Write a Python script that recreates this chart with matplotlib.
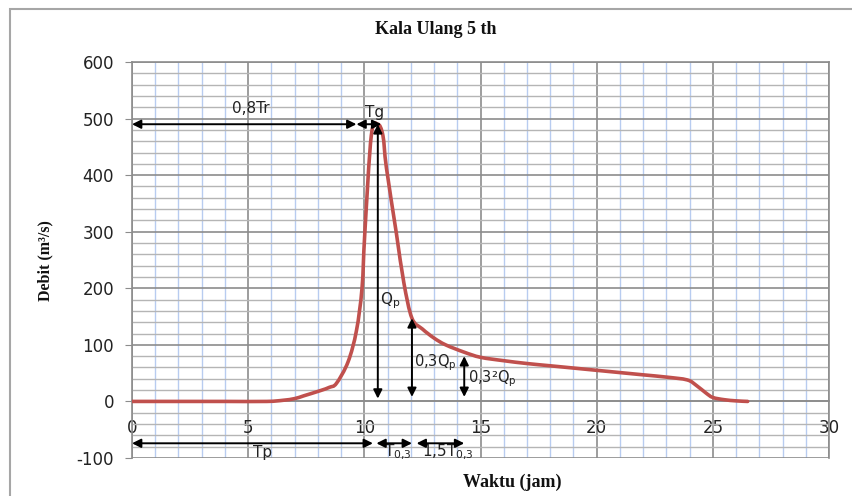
import matplotlib
matplotlib.use("Agg")
import matplotlib.pyplot as plt
from matplotlib.patches import Rectangle, PathPatch
from matplotlib.path import Path
from matplotlib.ticker import MultipleLocator

plt.rcParams['axes.unicode_minus'] = False

# ---- data ----
waktu = [0, 2, 4, 5.8, 6.5, 7, 7.4, 8.1, 8.5, 8.8, 9.3, 9.66, 9.9, 10.02, 10.3, 10.58,
         10.8, 10.95, 11.38, 11.7, 12.05, 12.5, 13, 13.5, 14.3, 15, 16, 17, 18, 19,
         20, 21, 22, 23, 23.9, 24.3, 24.7, 25, 25.5, 26, 26.5]
debit = [0, 0, 0, 0, 2, 5, 10, 19, 25, 32, 70, 125, 200, 297, 470, 490,
         470, 413, 297, 210, 147, 128, 112, 100, 87, 78, 72, 67, 63, 59,
         55, 51, 47, 43, 38, 28, 15, 7, 3, 1, 0]

title = "Kala Ulang 5 th"
xlabel = "Waktu (jam)"
ylabel = "Debit (m³/s)"
xticks = [0, 5, 10, 15, 20, 25, 30]
yticks = [-100, 0, 100, 200, 300, 400, 500, 600]

# key times / discharges used for the annotation arrows
t_08tr = 9.66      # end of 0,8Tr
t_peak = 10.58     # Tp (peak time)
q_peak = 490       # Qp
t_03 = 12.05       # Tp + T0,3
q_03 = 147         # 0,3 Qp
t_032 = 14.3       # Tp + T0,3 + 1,5 T0,3
q_032 = 80         # 0,3^2 Qp
t_tp_end = 10.37
y_base = -74       # level of the time arrows

fig = plt.figure(figsize=(8.52, 4.96), dpi=100)
ax = fig.add_axes([132/852, 1-458/496, (829-132)/852, (458-62)/496])

txt = '#222222'
major = '#8c8c8c'

ax.set_xlim(0, 30)
ax.set_ylim(-100, 600)
ax.xaxis.set_major_locator(MultipleLocator(5))
ax.xaxis.set_minor_locator(MultipleLocator(1))
ax.yaxis.set_major_locator(MultipleLocator(100))
ax.yaxis.set_minor_locator(MultipleLocator(20))
ax.set_xticks(xticks)
ax.set_yticks(yticks)
ax.set_axisbelow(True)
ax.grid(which='major', axis='x', color=major, lw=1.2)
ax.grid(which='minor', axis='x', color='#b8ccf0', lw=1.0)
ax.grid(which='major', axis='y', color=major, lw=1.2)
ax.grid(which='minor', axis='y', color='#b5b5b5', lw=1.0)
for s in ax.spines.values():
    s.set_color(major)
    s.set_linewidth(1.2)
ax.spines['bottom'].set_position(('data', 0))
ax.tick_params(which='minor', length=0)
ax.tick_params(axis='x', which='major', length=0, pad=13, labelsize=12, labelcolor=txt)
ax.tick_params(axis='y', which='major', length=5, color=major, pad=8, labelsize=12, labelcolor=txt)

# smoothed line (Excel-style): cubic Bezier segments through the data points
verts = [(waktu[0], debit[0])]
codes = [Path.MOVETO]
n = len(waktu)
for i in range(n - 1):
    x0, y0 = (waktu[i - 1], debit[i - 1]) if i > 0 else (waktu[i], debit[i])
    x1, y1 = waktu[i], debit[i]
    x2, y2 = waktu[i + 1], debit[i + 1]
    x3, y3 = (waktu[i + 2], debit[i + 2]) if i + 2 < n else (x2, y2)
    c1 = (x1 + (x2 - x0) / 6, y1 + (y2 - y0) / 6)
    c2 = (x2 - (x3 - x1) / 6, y2 - (y3 - y1) / 6)
    verts += [c1, c2, (x2, y2)]
    codes += [Path.CURVE4] * 3
ax.add_patch(PathPatch(Path(verts, codes), fill=False, edgecolor='#c0504d', lw=2.6,
                       capstyle='round', joinstyle='round', zorder=3))

ap = dict(arrowstyle='<|-|>', color='black', lw=1.4, mutation_scale=13, shrinkA=0, shrinkB=0)
def darrow(x0, y0, x1, y1):
    ax.annotate('', xy=(x1, y1), xytext=(x0, y0), arrowprops=ap, zorder=4)

darrow(0, q_peak, t_08tr, q_peak)
darrow(t_08tr, q_peak, t_peak + 0.15, q_peak)
darrow(t_peak, q_peak, t_peak, 5)
darrow(t_03, q_03, t_03, 8)
darrow(t_032, q_032, t_032, 8)
darrow(0, y_base, t_tp_end, y_base)
darrow(t_peak - 0.06, y_base, t_03, y_base)
darrow(t_03 + 0.2, y_base, t_032, y_base)

afs = 11
ax.text(5.1, 518, '0,8Tr', ha='center', va='center', fontsize=afs, color=txt)
ax.text(10.45, 511, 'Tg', ha='center', va='center', fontsize=afs, color=txt)
ax.text(10.67, 178, r'$\mathregular{Q_p}$', ha='left', va='center', fontsize=afs, color=txt)
ax.text(12.12, 69, r'0,3$\mathregular{Q_p}$', ha='left', va='center', fontsize=10.5, color=txt)
ax.text(14.45, 41, r'0,3²$\mathregular{Q_p}$', ha='left', va='center', fontsize=10.5, color=txt)
ax.text(5.6, -90, 'Tp', ha='center', va='center', fontsize=afs, color=txt)
ax.text(11.45, -90, r'$\mathregular{T_{0{,}3}}$', ha='center', va='center', fontsize=afs, color=txt)
ax.text(13.6, -90, r'1,5$\mathregular{T_{0{,}3}}$', ha='center', va='center', fontsize=afs, color=txt)

serif = 'Liberation Serif'
fig.text(436/852, 1-30/496, title, ha='center', va='center', fontsize=13,
         fontweight='bold', family=serif, color='#111111')
fig.text(512/852, 1-482/496, xlabel, ha='center', va='center', fontsize=13,
         fontweight='bold', family=serif, color='#111111')
fig.text(45/852, 1-261/496, ylabel, ha='center', va='center', rotation=90,
         fontsize=11.5, fontweight='bold', family=serif, color='#111111')

fig.add_artist(Rectangle((10/852, -0.1), 1.2, 1.1 - 9/496, transform=fig.transFigure,
                         fill=False, edgecolor='#a6a6a6', lw=1.5))

fig.savefig('out.png', dpi=100)
